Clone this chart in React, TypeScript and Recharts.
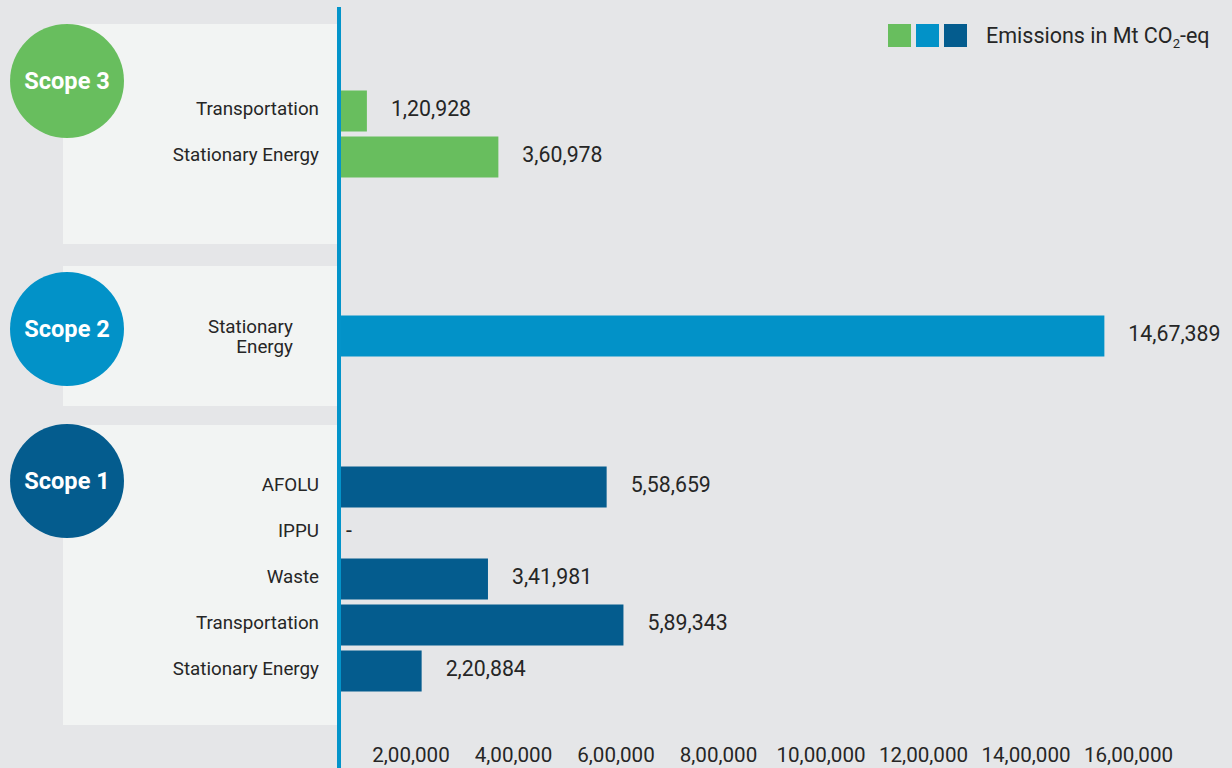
import { Bar, BarChart, Cell, LabelList, XAxis, YAxis } from 'recharts';

const scope3Categories = ['Transportation', 'Stationary Energy'];
const scope3Values = [120928, 360978];
const scope2Categories = ['Stationary Energy'];
const scope2Values = [1467389];
const scope1Categories = ['AFOLU', 'IPPU', 'Waste', 'Transportation', 'Stationary Energy'];
const scope1Values = [558659, 0, 341981, 589343, 220884];
const axisTicks = [200000, 400000, 600000, 800000, 1000000, 1200000, 1400000, 1600000];

const GREEN = '#68be5e';
const LIGHT_BLUE = '#0292c8';
const DARK_BLUE = '#045c8e';
const AXIS_BLUE = '#0394ca';
const TEXT = '#262626';
const FONT = 'Roboto, "Noto Sans", sans-serif';

const toRows = (cats: string[], vals: number[]) =>
  cats.map((category, i) => ({ category, value: vals[i] }));

const fmt = (v: number) => v.toLocaleString('en-IN');

// value scale starts a little above zero, like the original
const valueDomain = [70000, 1600000];
// the printed tick labels are spaced a bit tighter than the bars
const labelDomain = [59500, 1694600];

function CategoryTick(props: any) {
  const { x, y, payload, wrap } = props;
  const parts = wrap ? String(payload.value).split(' ') : [String(payload.value)];
  return (
    <text x={x} y={y} textAnchor="end" fill={TEXT} fontSize={18.8} fontFamily={FONT}>
      {parts.map((p, i) => (
        <tspan key={i} x={x} dy={i === 0 ? (parts.length > 1 ? -2.5 : 4.5) : 19.5}>
          {p}
        </tspan>
      ))}
    </text>
  );
}

function ValueLabel(props: any) {
  const { viewBox, value } = props;
  if (!viewBox) return null;
  const { x, y, width, height } = viewBox;
  const end = Math.max(x, x + width);
  const empty = !value;
  return (
    <text
      x={end + (empty ? 7 : 24)}
      y={y + height / 2 + 5}
      fill={TEXT}
      fontSize={21.3}
      fontFamily={FONT}
    >
      {empty ? '-' : fmt(value)}
    </text>
  );
}

type ScopeChartProps = {
  rows: { category: string; value: number }[];
  color: string;
  top: number;
  height: number;
  padTop: number;
  padBottom: number;
  wrap?: boolean;
  tickMargin?: number;
  showTicks?: boolean;
};

function ScopeChart({ rows, color, top, height, padTop, padBottom, wrap, tickMargin = 20, showTicks }: ScopeChartProps) {
  return (
    <div style={{ position: 'absolute', left: 0, top }}>
      <BarChart
        layout="vertical"
        width={1232}
        height={height}
        data={rows}
        margin={{ top: 0, right: 55, bottom: 0, left: 0 }}
        barSize={41}
      >
        <XAxis xAxisId="value" type="number" domain={valueDomain} allowDataOverflow hide />
        {showTicks && (
          <XAxis
            xAxisId="labels"
            type="number"
            orientation="bottom"
            mirror
            height={30}
            domain={labelDomain}
            allowDataOverflow
            ticks={axisTicks}
            tickFormatter={fmt}
            axisLine={false}
            tickLine={false}
            tickSize={0}
            tickMargin={6}
            interval={0}
            tick={{ fontSize: 20.6, fill: TEXT, fontFamily: FONT }}
          />
        )}
        <YAxis
          type="category"
          dataKey="category"
          width={339}
          padding={{ top: padTop, bottom: padBottom }}
          axisLine={{ stroke: AXIS_BLUE, strokeWidth: 4 }}
          tickLine={false}
          tickSize={0}
          tickMargin={tickMargin}
          interval={0}
          tick={<CategoryTick wrap={wrap} />}
        />
        <Bar dataKey="value" xAxisId="value" fill={color} isAnimationActive={false}>
          {rows.map((r, i) => (
            <Cell key={i} fill={r.value > 0 ? color : 'none'} />
          ))}
          <LabelList dataKey="value" content={<ValueLabel />} />
        </Bar>
      </BarChart>
    </div>
  );
}

const panels = [
  { top: 24, height: 220 },
  { top: 266, height: 140 },
  { top: 425, height: 300 },
];

const circles = [
  { name: 'Scope 3', cy: 81, color: GREEN },
  { name: 'Scope 2', cy: 329, color: LIGHT_BLUE },
  { name: 'Scope 1', cy: 481, color: DARK_BLUE },
];

export default function App() {
  return (
    <div
      style={{
        position: 'absolute',
        left: 0,
        top: 0,
        width: 1232,
        height: 768,
        background: '#e5e6e8',
        overflow: 'hidden',
        fontFamily: FONT,
      }}
    >
      {panels.map((p, i) => (
        <div
          key={i}
          style={{ position: 'absolute', left: 63, top: p.top, width: 274, height: p.height, background: '#f2f4f3' }}
        />
      ))}

      <ScopeChart rows={toRows(scope3Categories, scope3Values)} color={GREEN} top={7} height={251} padTop={80.5} padBottom={78.5} />
      <ScopeChart
        rows={toRows(scope2Categories, scope2Values)}
        color={LIGHT_BLUE}
        top={258}
        height={152}
        padTop={54.5}
        padBottom={51.5}
        wrap
        tickMargin={46}
      />
      <ScopeChart
        rows={toRows(scope1Categories, scope1Values)}
        color={DARK_BLUE}
        top={410}
        height={358}
        padTop={53.5}
        padBottom={74.5}
        showTicks
      />

      {circles.map((c) => (
        <div
          key={c.name}
          style={{
            position: 'absolute',
            left: 10,
            top: c.cy - 57,
            width: 114,
            height: 114,
            borderRadius: '50%',
            background: c.color,
            color: '#fff',
            fontWeight: 700,
            fontSize: 23.6,
            display: 'flex',
            alignItems: 'center',
            justifyContent: 'center',
          }}
        >
          {c.name}
        </div>
      ))}

      {/* legend */}
      <div style={{ position: 'absolute', left: 888, top: 24, display: 'flex', alignItems: 'center' }}>
        {[GREEN, LIGHT_BLUE, DARK_BLUE].map((c) => (
          <span key={c} style={{ width: 23, height: 23, background: c, marginRight: 5, display: 'inline-block' }} />
        ))}
        <span style={{ marginLeft: 14, fontSize: 21.5, color: TEXT, lineHeight: '23px', whiteSpace: 'nowrap' }}>
          Emissions in Mt CO<sub style={{ fontSize: 13, verticalAlign: -5, lineHeight: 0 }}>2</sub>-eq
        </span>
      </div>
    </div>
  );
}
